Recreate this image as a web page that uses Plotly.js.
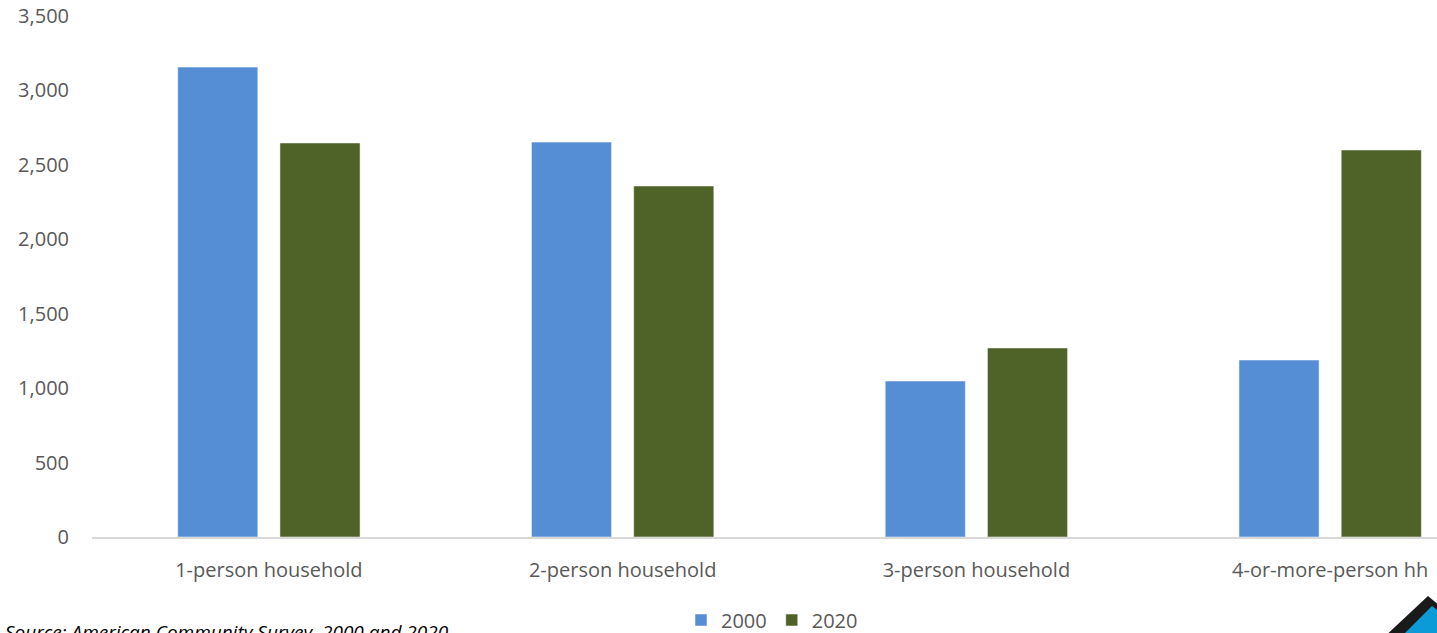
<!DOCTYPE html>
<html>
<head>
<meta charset="utf-8">
<script src="https://cdn.plot.ly/plotly-3.0.1.min.js"></script>
<style>
  html, body { margin: 0; padding: 0; background: #fff; }
  #chart { width: 1437px; height: 633px; }
</style>
</head>
<body>
<div id="chart"></div>
<script>
// Households by size, 2000 vs 2020
const categories = ['1-person household', '2-person household', '3-person household', '4-or-more-person hh'];
const values2000 = [3157, 2653, 1048, 1189];
const values2020 = [2647, 2358, 1270, 2600];
const yTicks = [0, 500, 1000, 1500, 2000, 2500, 3000, 3500];
const yTickLabels = ['0', '500', '1,000', '1,500', '2,000', '2,500', '3,000', '3,500'];

const FONT = '"Open Sans", "Liberation Sans", sans-serif';
const TEXT = '#595959';

// plot area in pixels, used to place the decorative house mark
const W = 1437, H = 633;
const margin = { l: 92, r: 0, t: 16, b: 96, autoexpand: false };
const px = x => (x - margin.l) / (W - margin.l - margin.r);
const py = y => (H - margin.b - y) / (H - margin.t - margin.b);
const poly = pts => 'M ' + pts.map(p => px(p[0]) + ',' + py(p[1])).join(' L ') + ' Z';

const traces = [
  {
    type: 'bar', name: '2000', x: categories, y: values2000,
    marker: { color: '#558ED5', line: { color: 'rgba(255,255,255,0.5)', width: 1 } },
    hoverinfo: 'x+y'
  },
  {
    type: 'bar', name: '2020', x: categories, y: values2020,
    marker: { color: '#4F6228', line: { color: 'rgba(255,255,255,0.5)', width: 1 } },
    hoverinfo: 'x+y'
  }
];

const layout = {
  width: W, height: H,
  margin: margin,
  paper_bgcolor: '#ffffff',
  plot_bgcolor: '#ffffff',
  font: { family: FONT, size: 20, color: TEXT },
  barmode: 'group',
  bargap: 0.422,
  bargroupgap: 0.216,
  showlegend: true,
  legend: {
    orientation: 'h', x: px(772), xanchor: 'center', y: py(620), yanchor: 'middle',
    font: { family: FONT, size: 20, color: TEXT },
    itemwidth: 30, tracegroupgap: 0
  },
  xaxis: {
    type: 'category',
    range: [-0.5, 3.302],
    showgrid: false, zeroline: false,
    showline: true, linecolor: '#D9D9D9', linewidth: 2,
    ticks: '', ticklabelstandoff: 14,
    tickfont: { family: FONT, size: 20, color: TEXT },
    fixedrange: true
  },
  yaxis: {
    range: [0, 3500],
    tickvals: yTicks, ticktext: yTickLabels,
    showgrid: false, zeroline: false, showline: false,
    ticks: '', ticklabelstandoff: 22,
    tickfont: { family: FONT, size: 20, color: TEXT },
    fixedrange: true
  },
  annotations: [
    {
      xref: 'paper', yref: 'paper', x: px(3), y: py(617),
      xanchor: 'left', yanchor: 'top', showarrow: false,
      text: '<i>Source: American Community Survey, 2000 and 2020</i>',
      font: { family: FONT, size: 19, color: '#000000' }
    }
  ],
  shapes: [
    {
      type: 'path', xref: 'paper', yref: 'paper', layer: 'above',
      path: poly([[1381, 640], [1428, 596], [1440, 606], [1440, 640]]),
      fillcolor: '#1a1a1a', line: { width: 0 }
    },
    {
      type: 'path', xref: 'paper', yref: 'paper', layer: 'above',
      path: poly([[1398, 640], [1432, 606], [1440, 612], [1440, 640]]),
      fillcolor: '#0B9BD7', line: { width: 0 }
    }
  ]
};

Plotly.newPlot('chart', traces, layout, { displayModeBar: false, staticPlot: true });
</script>
</body>
</html>
